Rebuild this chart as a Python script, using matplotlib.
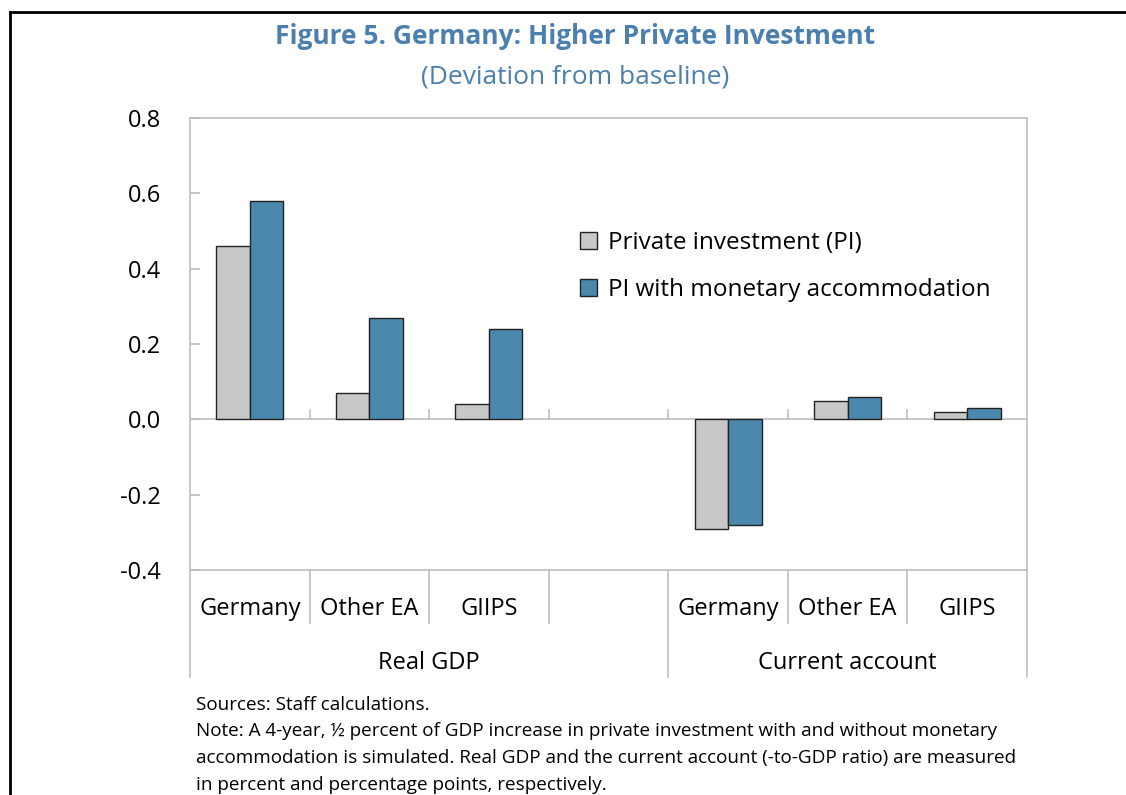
import matplotlib
matplotlib.use("Agg")
from matplotlib import pyplot as plt
import matplotlib.transforms as mtransforms
import numpy as np

plt.rcParams['font.family'] = ['Open Sans', 'DejaVu Sans']

# data
countries = ["Germany", "Other EA", "GIIPS", "", "Germany", "Other EA", "GIIPS"]
groups = ["Real GDP", "Current account"]
pi = [0.46, 0.07, 0.04, np.nan, -0.29, 0.05, 0.02]
pi_money = [0.58, 0.27, 0.24, np.nan, -0.28, 0.06, 0.03]
yticks = [-0.4, -0.2, 0.0, 0.2, 0.4, 0.6, 0.8]
ytick_labels = ["-0.4", "-0.2", "0.0", "0.2", "0.4", "0.6", "0.8"]

GREY = "#c8c8c8"
BLUE = "#4a89ad"
TITLE_BLUE = "#4a7fae"
AXIS_GREY = "#bfbfbf"

W, H = 1126, 795
fig = plt.figure(figsize=(W / 100, H / 100), dpi=100)
ax = fig.add_axes([190 / W, 1 - 570 / H, (1027 - 190) / W, (570 - 118) / H])

x = np.arange(len(countries))
bw = 0.28
ax.bar(x - bw / 2, pi, bw, color=GREY, edgecolor="#222222", linewidth=1.0,
       label="Private investment (PI)", zorder=3)
ax.bar(x + bw / 2, pi_money, bw, color=BLUE, edgecolor="#222222", linewidth=1.0,
       label="PI with monetary accommodation", zorder=3)

ax.set_xlim(-0.5, len(countries) - 0.5)
ax.set_ylim(-0.4, 0.8)
ax.set_yticks(yticks)
ax.set_yticklabels(ytick_labels, fontsize=17)
ax.tick_params(axis='y', direction='in', length=7, color=AXIS_GREY, width=1.2, pad=21)
ax.set_xticks([])
for s in ax.spines.values():
    s.set_color(AXIS_GREY)
    s.set_linewidth(1.2)

# zero line with boundary ticks
ax.axhline(0, color=AXIS_GREY, linewidth=1.2, zorder=2)
bounds = np.arange(len(countries) - 1) + 0.5
for b in bounds:
    ax.plot([b, b], [0, 0.025], color=AXIS_GREY, linewidth=1.2, zorder=2)

# category axis below the plot
trans = mtransforms.blended_transform_factory(ax.transData, ax.transAxes)
ax_h = 570 - 118
short = -(623 - 570) / ax_h
long_ = -(677 - 570) / ax_h
for b in bounds:
    y_end = long_ if b == 3.5 else short
    ax.plot([b, b], [0, y_end], color=AXIS_GREY, linewidth=1.2,
            transform=trans, clip_on=False)
for edge in [-0.5, len(countries) - 0.5]:
    ax.plot([edge, edge], [0, long_], color=AXIS_GREY, linewidth=1.2,
            transform=trans, clip_on=False)

for xi, name in zip(x, countries):
    ax.text(xi, -(609 - 570) / ax_h, name, transform=trans, ha='center',
            va='center', fontsize=17)
ax.text(1.5, -(663 - 570) / ax_h, groups[0], transform=trans, ha='center',
        va='center', fontsize=17)
ax.text(5.0, -(663 - 570) / ax_h, groups[1], transform=trans, ha='center',
        va='center', fontsize=17)

ax.legend(loc='upper left', bbox_to_anchor=(580 / W, 1 - 231 / H),
          bbox_transform=fig.transFigure, frameon=False, fontsize=17.5,
          handlelength=0.7, handleheight=0.7, handletextpad=0.45,
          labelspacing=0.95, borderpad=0, borderaxespad=0)

# titles
fig.text(575 / W, 1 - 37 / H, "Figure 5. Germany: Higher Private Investment",
         ha='center', va='center', fontsize=19, fontweight='bold', color=TITLE_BLUE)
fig.text(575 / W, 1 - 77 / H, "(Deviation from baseline)",
         ha='center', va='center', fontsize=19, color=TITLE_BLUE)

# notes
notes = [
    "Sources: Staff calculations.",
    "Note: A 4-year, \u00bd percent of GDP increase in private investment with and without monetary",
    "accommodation is simulated. Real GDP and the current account (-to-GDP ratio) are measured",
    "in percent and percentage points, respectively.",
]
for i, line in enumerate(notes):
    fig.text(196 / W, 1 - (705 + 26.5 * i) / H, line, ha='left', va='center',
             fontsize=13.6)

# frame lines
fig.add_artist(plt.Line2D([10 / W, 1], [1 - 12 / H, 1 - 12 / H],
                          transform=fig.transFigure, color='black', linewidth=2))
fig.add_artist(plt.Line2D([10 / W, 10 / W], [0, 1 - 12 / H],
                          transform=fig.transFigure, color='black', linewidth=2))

fig.savefig("out.png", dpi=100)
